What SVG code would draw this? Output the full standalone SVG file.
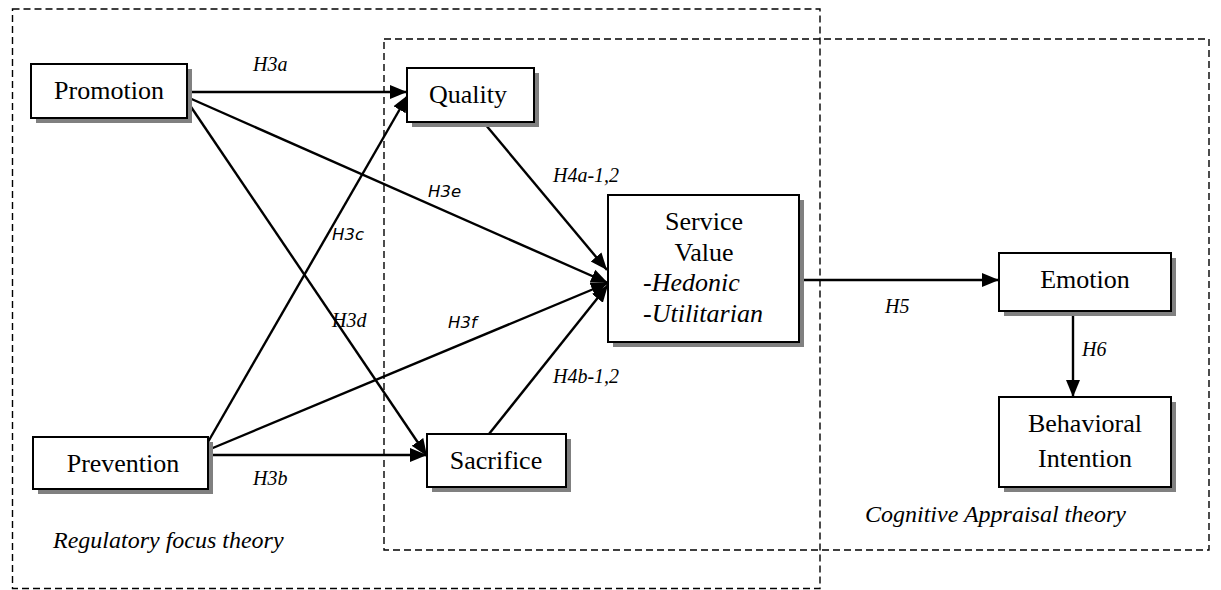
<svg xmlns="http://www.w3.org/2000/svg" width="1221" height="590" viewBox="0 0 1221 590">
  <style>
    .frame { fill: none; stroke: #000; stroke-width: 1.4; stroke-dasharray: 7 4; }
    .box { fill: #fff; stroke: #000; stroke-width: 2; }
    .shadow { fill: #808080; }
    .node-text { font-family: "Liberation Serif", "Times New Roman", serif; font-size: 26px; fill: #000; text-anchor: middle; }
    .node-italic { font-family: "Liberation Serif", "Times New Roman", serif; font-style: italic; font-size: 26px; fill: #000; }
    .link { stroke: #000; stroke-width: 2.4; fill: none; marker-end: url(#arrow); }
    .lbl { font-family: "Liberation Serif", "Times New Roman", serif; font-style: italic; font-size: 20px; fill: #000; }
    .lbl-sans { font-family: "DejaVu Sans", sans-serif; font-style: italic; font-size: 16.5px; fill: #000; }
    .theory { font-family: "Liberation Serif", "Times New Roman", serif; font-style: italic; font-size: 24px; fill: #000; }
  </style>
  <defs>
    <marker id="arrow" markerUnits="userSpaceOnUse" markerWidth="18" markerHeight="16" viewBox="0 0 18 16" refX="17" refY="8" orient="auto">
      <path d="M0,1 L17,8 L0,15 Z" fill="#000"/>
    </marker>
  </defs>

  <!-- theory frames -->
  <g id="frames">
    <rect class="frame" x="12.5" y="9" width="807.5" height="579.5"/>
    <rect class="frame" x="384" y="39" width="825" height="511"/>
  </g>
  <text class="theory" x="53" y="548">Regulatory focus theory</text>
  <text class="theory" x="865" y="522">Cognitive Appraisal theory</text>

  <!-- connectors -->
  <g id="connectors">
    <line class="link" x1="187" y1="92" x2="407" y2="92"/>
    <line class="link" x1="187" y1="101" x2="427" y2="456"/>
    <line class="link" x1="187" y1="97" x2="608" y2="283"/>
    <line class="link" x1="208" y1="442" x2="408" y2="95"/>
    <line class="link" x1="208" y1="450" x2="608" y2="283"/>
    <line class="link" x1="208" y1="455" x2="427" y2="455"/>
    <line class="link" x1="485" y1="124" x2="607" y2="270"/>
    <line class="link" x1="489" y1="434" x2="608" y2="285"/>
    <line class="link" x1="799" y1="280" x2="999" y2="280"/>
    <line class="link" x1="1073" y1="311" x2="1073" y2="397"/>
  </g>

  <!-- connector labels -->
  <g id="labels">
    <text class="lbl" x="253" y="71">H3a</text>
    <text class="lbl" x="253" y="485">H3b</text>
    <text class="lbl-sans" x="332" y="240">H3c</text>
    <text class="lbl" x="332" y="327">H3d</text>
    <text class="lbl-sans" x="428" y="197">H3e</text>
    <text class="lbl-sans" x="448" y="328">H3f</text>
    <text class="lbl" x="553" y="182">H4a-1,2</text>
    <text class="lbl" x="553" y="383">H4b-1,2</text>
    <text class="lbl" x="885" y="313">H5</text>
    <text class="lbl" x="1082" y="356">H6</text>
  </g>

  <g id="promotion">
    <rect class="shadow" x="36" y="69" width="156" height="54"/>
    <rect class="box" x="31" y="64" width="156" height="54"/>
    <text class="node-text" x="109" y="99">Promotion</text>
  </g>

  <g id="prevention">
    <rect class="shadow" x="38" y="442" width="175" height="52"/>
    <rect class="box" x="33" y="437" width="175" height="52"/>
    <text class="node-text" x="123" y="472">Prevention</text>
  </g>

  <g id="quality">
    <rect class="shadow" x="412" y="73" width="127" height="54"/>
    <rect class="box" x="407" y="68" width="127" height="54"/>
    <text class="node-text" x="468" y="103">Quality</text>
  </g>

  <g id="sacrifice">
    <rect class="shadow" x="432" y="439" width="139" height="53"/>
    <rect class="box" x="427" y="434" width="139" height="53"/>
    <text class="node-text" x="496" y="469">Sacrifice</text>
  </g>

  <g id="service-value">
    <rect class="shadow" x="613" y="200" width="191" height="147"/>
    <rect class="box" x="608" y="195" width="191" height="147"/>
    <text class="node-text" x="704" y="230">Service</text>
    <text class="node-text" x="704" y="261">Value</text>
    <text class="node-italic" x="643" y="291">-Hedonic</text>
    <text class="node-italic" x="643" y="322">-Utilitarian</text>
  </g>

  <g id="emotion">
    <rect class="shadow" x="1004" y="258" width="172" height="58"/>
    <rect class="box" x="999" y="253" width="172" height="58"/>
    <text class="node-text" x="1085" y="288">Emotion</text>
  </g>

  <g id="behavioral-intention">
    <rect class="shadow" x="1004" y="402" width="172" height="90"/>
    <rect class="box" x="999" y="397" width="172" height="90"/>
    <text class="node-text" x="1085" y="432">Behavioral</text>
    <text class="node-text" x="1085" y="467">Intention</text>
  </g>
</svg>
